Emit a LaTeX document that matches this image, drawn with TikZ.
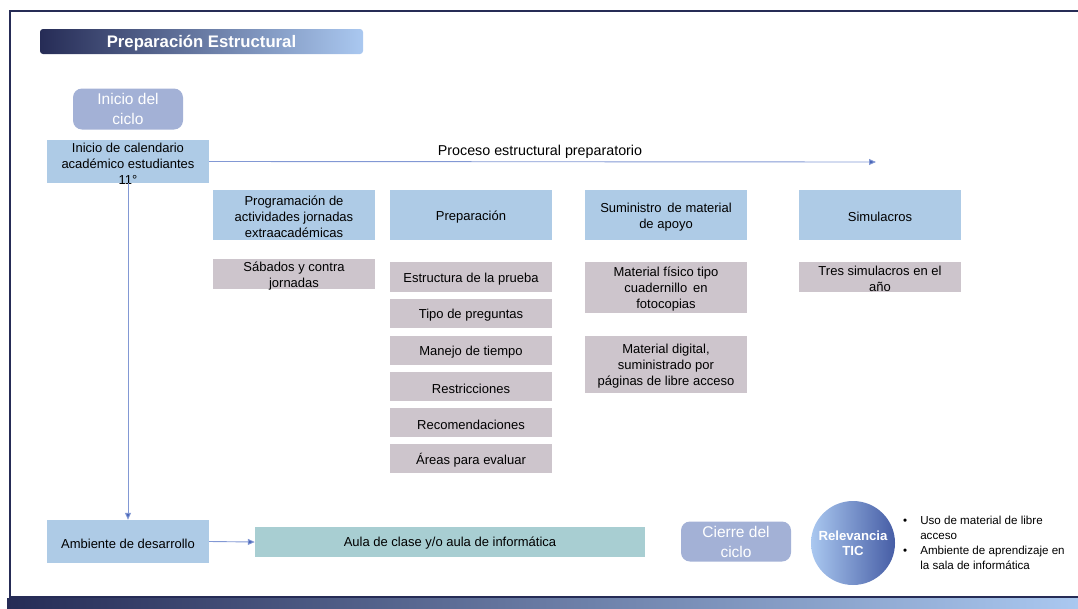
\documentclass[tikz,border=0pt]{standalone}
\usepackage{fontspec}
\setmainfont{Liberation Sans}
\usetikzlibrary{arrows.meta}
\definecolor{navy}{RGB}{38,44,86}
\definecolor{lightsky}{RGB}{170,200,240}
\definecolor{hdrblue}{RGB}{174,203,230}
\definecolor{graybox}{RGB}{205,197,204}
\definecolor{lav}{RGB}{163,177,214}
\definecolor{teal}{RGB}{168,206,210}
\definecolor{linecol}{RGB}{130,152,212}
\definecolor{tipcol}{RGB}{74,102,184}
\definecolor{circdark}{RGB}{70,93,165}
\tikzset{
  hdr/.style={fill=hdrblue, minimum width=162pt, inner sep=0pt},
  sub/.style={fill=graybox, minimum width=162pt, inner sep=0pt},
  txt/.style={align=center, inner sep=0pt, font=\fontsize{13}{16}\selectfont},
  pill/.style={fill=lav, rounded corners=9pt, text=white, minimum width=110pt, minimum height=41pt, align=center, inner sep=0pt, font=\fontsize{15.5}{20}\selectfont},
  conn/.style={draw=linecol, line width=0.9pt, -{Triangle[length=7pt,width=6pt,fill=tipcol]}}
}
% style, height, name, position, text
\newcommand{\boxnode}[5]{%
  \node[#1, minimum height=#2] (#3) at (#4) {};
  \node[txt] (#3t) at ([yshift=-2pt]#3.center) {#5};}
\begin{document}
\begin{tikzpicture}[x=1pt,y=-1pt]
\useasboundingbox (0,0) rectangle (1078,608);
% frame
\draw[navy, line width=2pt] (1078,11) -- (10,11) -- (10,597) -- (1078,597);
\shade[left color=navy, right color=lightsky] (7,598) rectangle (1078,608);
% title
\shade[left color=navy, right color=lightsky, rounded corners=3pt] (40,29) rectangle (363,54);
\node[text=white, font=\fontsize{16.7}{18}\selectfont\bfseries] (title) at (201.5,43) {Preparación Estructural};
% inicio del ciclo
\node[pill] (ini) at (128,109) {Inicio del\\ciclo};
\boxnode{hdr}{43pt}{cal}{128,161.5}{Inicio de calendario\\académico estudiantes\\11°}
% process arrow
\coordinate (pend) at (876,162);
\draw[conn] (cal.east) -- (pend);
\node[font=\fontsize{14.3}{16}\selectfont] (plabel) at (540,152) {Proceso estructural preparatorio};
% headers
\boxnode{hdr}{50pt}{prog}{294,215}{Programación de\\actividades jornadas\\extraacadémicas}
\boxnode{hdr}{50pt}{prep}{471,215}{Preparación}
\boxnode{hdr}{50pt}{sum}{666,215}{Suministro\, de material\\de apoyo}
\boxnode{hdr}{50pt}{sim}{880,215}{Simulacros}
% sub boxes
\boxnode{sub}{30pt}{sab}{294,274}{Sábados y contra\\jornadas}
\boxnode{sub}{30pt}{est}{471,277}{Estructura de la prueba}
\boxnode{sub}{29pt}{tipo}{471,313.5}{Tipo de preguntas}
\boxnode{sub}{29pt}{man}{471,350.5}{Manejo de tiempo}
\boxnode{sub}{29pt}{res}{471,386.5}{Restricciones}
\boxnode{sub}{29pt}{rec}{471,422.5}{Recomendaciones}
\boxnode{sub}{29pt}{areas}{471,458.5}{Áreas para evaluar}
\boxnode{sub}{51pt}{fis}{666,287.5}{Material físico tipo\\cuadernillo\, en\\fotocopias}
\boxnode{sub}{57pt}{dig}{666,364.5}{Material digital,\\suministrado por\\páginas de libre acceso}
\boxnode{sub}{30pt}{tres}{880,277}{Tres simulacros en el\\año}
% bottom row
\boxnode{hdr}{43pt}{amb}{128,541.5}{Ambiente de desarrollo}
\draw[conn] (cal.south) -- (amb.north);
\node[fill=teal, minimum width=390pt, minimum height=30pt, inner sep=0pt] (aula) at (450,542) {};
\node[txt] (aulat) at ([yshift=-1.5pt]aula.center) {Aula de clase y/o aula de informática};
\draw[conn] (amb.east) -- (aula.west);
\node[pill, minimum height=40pt] (cierre) at (736,541.5) {Cierre del\\ciclo};
\shade[left color=lightsky, right color=circdark] (853,543) circle (42);
\node[text=white, align=center, font=\fontsize{13.2}{15}\selectfont\bfseries] (tic) at (853,543) {Relevancia\\TIC};
\node[anchor=north west, inner sep=0pt, font=\fontsize{11.6}{14.7}\selectfont] (bul) at (903,514.5) {%
\begin{tabular}{@{}l@{\hspace{13pt}}l@{}}
\textbullet & Uso de material de libre\\
 & acceso\\
\textbullet & Ambiente de aprendizaje en\\
 & la sala de informática
\end{tabular}};
\end{tikzpicture}
\end{document}
